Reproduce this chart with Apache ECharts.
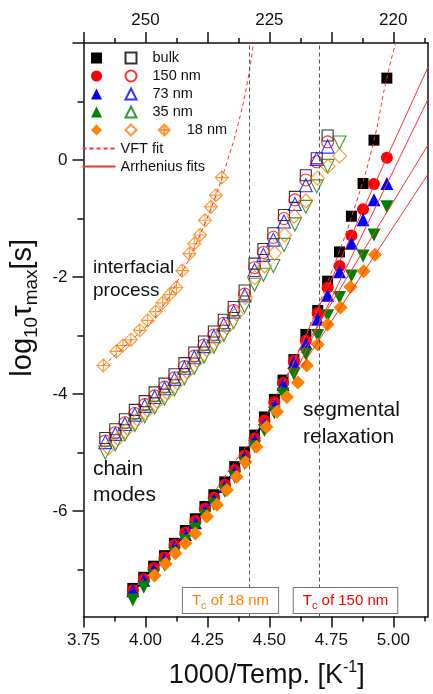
<!DOCTYPE html>
<html><head><meta charset="utf-8">
<script src="https://cdn.jsdelivr.net/npm/echarts@6/dist/echarts.min.js"></script>
<style>html,body{margin:0;padding:0;background:#fff}#c{width:433px;height:694px}</style>
</head><body><div id="c"></div>
<script>
// ---------- data ----------
const xMajor = [3.75, 4.00, 4.25, 4.50, 4.75, 5.00];
const xMinor = [3.875, 4.125, 4.375, 4.625, 4.875, 5.125];
const topTickVals = [4.00, 4.50, 5.00];
const topTickLabels = ['250', '225', '220'];
const yMajor = [-6, -4, -2, 0, 2];
const yLabelVals = [-6, -4, -2, 0];
const yMinor = [-7, -5, -3, -1, 1];
const tcLines = [4.425, 4.695];

// segmental relaxation (filled symbols)
const segX = [3.949,3.993,4.033,4.077,4.117,4.161,4.201,4.240,4.276,4.320,4.360,4.400,4.440,4.480,4.520,4.555,4.599,4.647,4.695,4.735,4.783,4.831,4.878,4.922,4.974];
const segBulk = [-7.32,-7.13,-6.94,-6.76,-6.55,-6.33,-6.13,-5.92,-5.72,-5.50,-5.24,-4.99,-4.70,-4.39,-4.09,-3.76,-3.41,-2.98,-2.57,-2.07,-1.57,-0.96,-0.40,0.34,1.40];
const seg150 = [-7.35,-7.16,-6.97,-6.79,-6.58,-6.37,-6.17,-5.96,-5.77,-5.55,-5.30,-5.05,-4.76,-4.45,-4.14,-3.81,-3.43,-3.09,-2.62,-2.18,-1.81,-1.29,-0.84,-0.41,0.04];
const seg73 = [-7.36,-7.18,-7.00,-6.82,-6.61,-6.40,-6.20,-5.99,-5.80,-5.58,-5.33,-5.08,-4.79,-4.50,-4.18,-3.84,-3.46,-3.13,-2.72,-2.31,-1.91,-1.42,-1.02,-0.68,-0.40];
const seg35 = [-7.52,-7.30,-7.10,-6.92,-6.72,-6.50,-6.30,-6.08,-5.88,-5.66,-5.42,-5.18,-4.90,-4.62,-4.32,-4.00,-3.66,-3.32,-3.00,-2.66,-2.35,-1.98,-1.64,-1.28,-0.80];
const seg18X = [4.037,4.081,4.121,4.161,4.201,4.248,4.288,4.328,4.368,4.404,4.448,4.488,4.531,4.571,4.615,4.651,4.695,4.735,4.787,4.827,4.880,4.926];
const seg18 = [-7.10,-6.90,-6.72,-6.55,-6.38,-6.09,-5.89,-5.64,-5.41,-5.16,-4.90,-4.56,-4.30,-4.05,-3.80,-3.51,-3.15,-2.81,-2.52,-2.17,-1.90,-1.62];

// chain modes (open symbols)
const chainX = [3.838,3.878,3.917,3.957,3.997,4.037,4.077,4.117,4.157,4.197,4.236,4.276,4.316,4.356,4.400,4.440,4.476,4.516,4.559,4.603,4.647,4.691,4.735];
const chainBulk = [-4.75,-4.60,-4.43,-4.27,-4.12,-3.97,-3.82,-3.66,-3.47,-3.29,-3.10,-2.93,-2.73,-2.51,-2.23,-1.77,-1.52,-1.25,-0.94,-0.63,-0.26,0.03,0.42];
const chain150 = [-4.80,-4.66,-4.49,-4.33,-4.18,-4.03,-3.88,-3.72,-3.53,-3.35,-3.16,-2.99,-2.79,-2.57,-2.29,-1.84,-1.58,-1.32,-1.00,-0.68,-0.34,-0.03,0.31];
const chain73 = [-4.82,-4.68,-4.51,-4.35,-4.20,-4.05,-3.90,-3.74,-3.55,-3.37,-3.18,-3.01,-2.81,-2.59,-2.31,-1.88,-1.62,-1.36,-1.05,-0.75,-0.43,0.02,0.23];
const chain35X = [3.838,3.878,3.917,3.957,3.997,4.037,4.077,4.117,4.157,4.197,4.236,4.276,4.316,4.356,4.400,4.440,4.476,4.516,4.559,4.603,4.647,4.691,4.735,4.783];
const chain35 = [-5.00,-4.86,-4.69,-4.53,-4.38,-4.23,-4.08,-3.92,-3.73,-3.55,-3.36,-3.19,-2.99,-2.77,-2.50,-2.13,-1.96,-1.81,-1.45,-1.10,-0.80,-0.45,-0.10,0.30];
const chain18X = [3.850,3.890,3.929,3.969,4.009,4.049,4.089,4.129,4.169,4.209,4.248,4.288,4.328,4.368,4.404,4.441,4.481,4.521,4.561,4.600,4.647,4.694,4.736,4.783];
const chain18 = [-4.92,-4.76,-4.59,-4.43,-4.28,-4.13,-3.98,-3.81,-3.62,-3.43,-3.24,-3.06,-2.86,-2.63,-2.35,-2.01,-1.81,-1.59,-1.28,-0.96,-0.70,-0.31,-0.11,0.07];

// interfacial process (18 nm, crossed diamonds)
const intX = [3.830,3.882,3.909,3.941,3.977,4.009,4.041,4.069,4.097,4.125,4.149,4.177,4.197,4.220,4.240,4.264,4.284,4.308];
const intY = [-3.51,-3.27,-3.17,-3.07,-2.91,-2.74,-2.59,-2.44,-2.30,-2.18,-1.89,-1.60,-1.43,-1.28,-1.03,-0.80,-0.60,-0.30];

// fits
const vftIntX = [3.83,3.95,4.05,4.15,4.22,4.28,4.33,4.37,4.41,4.436];
const vftIntY = [-3.51,-3.05,-2.62,-1.90,-1.28,-0.65,-0.02,0.55,1.30,2.02];
const vftBulkX = [3.94,4.05,4.15,4.25,4.35,4.45,4.55,4.65,4.75,4.85,4.92,4.97,5.01];
const vftBulkY = [-7.36,-6.92,-6.40,-5.85,-5.22,-4.62,-3.85,-2.95,-1.92,-0.73,0.30,1.33,2.02];
const arr150X = [4.571, 5.14], arr150Y = [-3.71, 1.59];
const arr73X = [4.597, 5.14], arr73Y = [-3.70, 1.04];
const arr35X = [4.627, 5.14], arr35Y = [-3.30, 0.26];
const arr18X = [4.627, 5.14], arr18Y = [-3.55, -0.24];

// ---------- chart ----------
const FONT = '"Liberation Sans", Arial, Helvetica, sans-serif';
const zip = (xs, ys) => xs.map((x, i) => [x, ys[i]]);
const C = { bulk: '#000000', n150: '#ff0000', n73: '#0000ff', n35: '#008000', n18: '#ff8000', fit: '#ff3030' };
const XMIN = 3.75, XMAX = 5.14, YMIN = -7.8, YMAX = 2;
const CROSS = 'path://M10,0 L20,10 L10,20 L0,10 Z M10,0 L10,20 M0,10 L20,10';

function filled(name, xs, ys, color, symbol, size, rot) {
  return { name, type: 'scatter', xAxisIndex: 0, yAxisIndex: 0, data: zip(xs, ys), symbol, symbolSize: size,
    symbolRotate: rot || 0, itemStyle: { color, opacity: 1 }, z: 2, silent: true };
}
function open(name, xs, ys, color, symbol, size, rot) {
  return { name, type: 'scatter', xAxisIndex: 0, yAxisIndex: 0, data: zip(xs, ys), symbol, symbolSize: size,
    symbolRotate: rot || 0, itemStyle: { color: 'rgba(0,0,0,0)', borderColor: color, borderWidth: 1.1 }, z: 2, silent: true };
}
function fit(name, xs, ys, dashed, smooth) {
  return { name, type: 'line', xAxisIndex: 0, yAxisIndex: 0, data: zip(xs, ys), symbol: 'none', smooth: !!smooth,
    lineStyle: { color: C.fit, width: 1, type: dashed ? [4, 3] : 'solid' },
    itemStyle: { color: 'rgba(0,0,0,0)', borderColor: 'rgba(0,0,0,0)' }, z: 4, silent: true };
}
const near = (a, b) => Math.abs(a - b) < 1e-6;

const baseX = { type: 'value', min: XMIN, max: XMAX, splitLine: { show: false } };
const baseY = { type: 'value', min: YMIN, max: YMAX, splitLine: { show: false } };
const tickStyle = { color: '#111', width: 1.5 };

const legendText = { fontSize: 14.5, lineHeight: 18, color: '#111', fontFamily: FONT };
const nameMap = { 'o-18': ' ', 'x-18': '18 nm' };

const option = {
  animation: false,
  backgroundColor: '#fff',
  grid: { left: 80, right: 5, top: 43, bottom: 72 },
  xAxis: [
    Object.assign({}, baseX, { position: 'bottom',
      axisLine: { onZero: false, lineStyle: tickStyle },
      axisTick: { customValues: xMajor, length: 11, lineStyle: tickStyle },
      axisLabel: { customValues: xMajor, formatter: v => v.toFixed(2), fontSize: 17, color: '#111', margin: 15, fontFamily: FONT },
      name: '{m|1000/Temp. [K}{sup|-1}{m|]}', nameLocation: 'middle', nameGap: 43,
      nameTextStyle: { padding: [0, 0, 0, 22], rich: {
        m: { fontSize: 27, lineHeight: 32, color: '#111', fontFamily: FONT },
        sup: { fontSize: 16, lineHeight: 14, verticalAlign: 'top', color: '#111', fontFamily: FONT } } } }),
    Object.assign({}, baseX, { position: 'bottom',
      axisLine: { show: false, onZero: false }, axisLabel: { show: false },
      axisTick: { customValues: xMinor, length: 5, lineStyle: tickStyle } }),
    Object.assign({}, baseX, { position: 'top',
      axisLine: { onZero: false, lineStyle: tickStyle },
      axisTick: { customValues: xMajor, length: 11, lineStyle: tickStyle },
      axisLabel: { customValues: topTickVals, fontSize: 17, color: '#111', margin: 14, fontFamily: FONT,
        formatter: v => { const i = topTickVals.findIndex(t => near(t, v)); return i >= 0 ? topTickLabels[i] : ''; } } }),
    Object.assign({}, baseX, { position: 'top',
      axisLine: { show: false, onZero: false }, axisLabel: { show: false },
      axisTick: { customValues: xMinor, length: 5, lineStyle: tickStyle } })
  ],
  yAxis: [
    Object.assign({}, baseY, { position: 'left',
      axisLine: { onZero: false, lineStyle: tickStyle },
      axisTick: { customValues: yMajor, length: 11, lineStyle: tickStyle },
      axisLabel: { customValues: yLabelVals, fontSize: 17, color: '#111', margin: 16, fontFamily: FONT },
      name: '{m|log}{s|10}{m|τ}{s|max}{m|[s]}', nameLocation: 'middle', nameGap: 41,
      nameTextStyle: { padding: [0, 0, 0, 44], rich: {
        m: { fontSize: 29, lineHeight: 38, color: '#111', fontFamily: FONT },
        s: { fontSize: 19, lineHeight: 19, verticalAlign: 'bottom', color: '#111', fontFamily: FONT } } } }),
    Object.assign({}, baseY, { position: 'left',
      axisLine: { show: false, onZero: false }, axisLabel: { show: false },
      axisTick: { customValues: yMinor, length: 6, lineStyle: tickStyle } }),
    Object.assign({}, baseY, { position: 'right',
      axisLine: { onZero: false, lineStyle: tickStyle }, axisLabel: { show: false }, axisTick: { show: false } })
  ],
  legend: [
    { data: ['f-bulk', 'f-150', 'f-73', 'f-35', 'f-18'], orient: 'vertical', left: 91, top: 49, padding: 0,
      itemGap: 0, itemWidth: 11, itemHeight: 11, selectedMode: false, formatter: () => ' ', textStyle: legendText },
    { data: ['bulk', '150 nm', '73 nm', '35 nm', 'o-18'], orient: 'vertical', left: 124.5, top: 49, padding: 0,
      itemGap: 0, itemWidth: 11, itemHeight: 11, selectedMode: false,
      formatter: n => nameMap[n] || n, textStyle: Object.assign({ padding: [0, 0, 0, 11] }, legendText) },
    { data: ['x-18'], orient: 'vertical', left: 157.8, top: 121, padding: 0,
      itemGap: 0, itemWidth: 11, itemHeight: 11, selectedMode: false,
      formatter: n => nameMap[n] || n, textStyle: Object.assign({ padding: [0, 0, 0, 12] }, legendText) },
    { data: ['VFT fit', 'Arrhenius fits'], orient: 'vertical', left: 81.5, top: 139.5, padding: 0,
      itemGap: 0, itemWidth: 33, itemHeight: 11, selectedMode: false, textStyle: legendText }
  ],
  series: [
    // chain modes (open)
    open('bulk', chainX, chainBulk, C.bulk, 'rect', 11),
    open('150 nm', chainX, chain150, C.n150, 'circle', 12),
    open('73 nm', chainX, chain73, C.n73, 'triangle', 13),
    open('35 nm', chain35X, chain35, C.n35, 'triangle', 13, 180),
    open('o-18', chain18X, chain18, C.n18, 'diamond', 14),
    // interfacial
    open('x-18', intX, intY, C.n18, CROSS, 13),
    // segmental (filled)
    filled('f-bulk', segX, segBulk, C.bulk, 'rect', 11),
    filled('f-150', segX, seg150, C.n150, 'circle', 12),
    filled('f-73', segX, seg73, C.n73, 'triangle', 13),
    filled('f-35', segX, seg35, C.n35, 'triangle', 13, 180),
    filled('f-18', seg18X, seg18, C.n18, 'diamond', 14),
    // fits
    Object.assign(fit('VFT fit', vftBulkX, vftBulkY, true, true), {
      markLine: { silent: true, symbol: 'none', label: { show: false },
        lineStyle: { color: '#555', type: [4, 3], width: 1 },
        data: tcLines.map(v => ({ xAxis: v })) } }),
    fit('VFT fit', vftIntX, vftIntY, true, true),
    fit('Arrhenius fits', arr150X, arr150Y, false),
    fit('Arrhenius fits', arr73X, arr73Y, false),
    fit('Arrhenius fits', arr35X, arr35Y, false),
    fit('Arrhenius fits', arr18X, arr18Y, false)
  ],
  graphic: [
    { type: 'text', z: 10, style: { text: 'interfacial\nprocess', x: 93, y: 256.5, fontSize: 19, lineHeight: 23, fill: '#111', fontFamily: FONT } },
    { type: 'text', z: 10, style: { text: 'chain\nmodes', x: 93, y: 456, fontSize: 21, lineHeight: 26, fill: '#111', fontFamily: FONT } },
    { type: 'text', z: 10, style: { text: 'segmental\nrelaxation', x: 303, y: 396.5, fontSize: 21, lineHeight: 27, fill: '#111', fontFamily: FONT } },
    { type: 'text', z: 10, style: { text: '{t|T}{s|c}{t| of 18 nm}', x: 230.5, y: 600.5, align: 'center', verticalAlign: 'middle',
      backgroundColor: '#fff', borderColor: '#777', borderWidth: 1, padding: [2, 9, 2, 9],
      rich: { t: { fontSize: 15, lineHeight: 21, fill: C.n18, fontFamily: FONT },
              s: { fontSize: 11, lineHeight: 11, verticalAlign: 'bottom', fill: C.n18, fontFamily: FONT } } } },
    { type: 'text', z: 10, style: { text: '{t|T}{s|c}{t| of 150 nm}', x: 345.5, y: 600.5, align: 'center', verticalAlign: 'middle',
      backgroundColor: '#fff', borderColor: '#777', borderWidth: 1, padding: [2, 9, 2, 9],
      rich: { t: { fontSize: 15, lineHeight: 21, fill: C.n150, fontFamily: FONT },
              s: { fontSize: 11, lineHeight: 11, verticalAlign: 'bottom', fill: C.n150, fontFamily: FONT } } } }
  ]
};
const chart = echarts.init(document.getElementById('c'), null, { renderer: 'canvas' });
chart.setOption(option);
</script></body></html>
